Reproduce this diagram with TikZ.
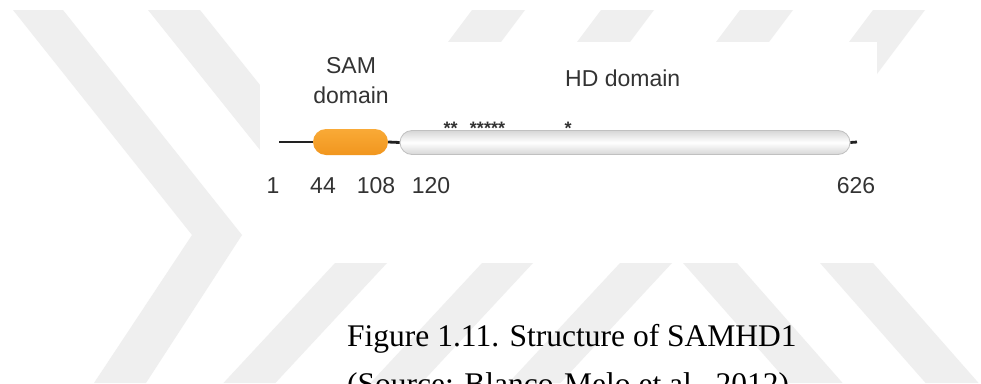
\documentclass[tikz,border=0pt]{standalone}
\usepackage{fontspec}
\setmainfont{Liberation Serif}
\newfontfamily\labelfont{Liberation Sans}
\definecolor{wm}{RGB}{239,239,239}
\definecolor{ink}{RGB}{51,51,51}
\definecolor{bbone}{RGB}{34,34,34}
\definecolor{orlight}{RGB}{249,170,55}
\definecolor{ordark}{RGB}{241,150,30}
\definecolor{cylgray}{RGB}{214,214,214}
\definecolor{cyledge}{RGB}{192,192,192}
\begin{document}
\begin{tikzpicture}[x=1pt,y=-1pt,
  stripe/.style={fill=wm, draw=none},
  lbl/.style={font=\labelfont\fontsize{23}{28}\selectfont, text=ink, inner sep=0pt, anchor=base},
  starlbl/.style={font=\labelfont\bfseries\fontsize{18}{20}\selectfont, text=ink, inner sep=0pt, anchor=base},
  caption/.style={font=\fontsize{31.5}{38}\selectfont, text=black, inner sep=0pt, anchor=base west},
  backbone/.style={draw=bbone, line width=2.8pt},
  samdom/.style={draw=none, rounded corners=13pt, minimum width=75pt, minimum height=26pt,
    inner sep=0pt, top color=orlight, bottom color=ordark},
  hddom/.style={draw=cyledge, line width=0.8pt, rounded corners=12pt, minimum width=450pt,
    minimum height=24pt, inner sep=0pt, top color=cylgray, bottom color=cylgray, middle color=white}
]
\useasboundingbox (0,0) rectangle (981,383);
\fill[white] (0,0) rectangle (981,383);
% watermark
\fill[stripe] (13,10) -- (63,10) -- (242,235) -- (146,383) -- (94,383) -- (192,235) -- cycle;
\fill[stripe] (148,10) -- (200,10) -- (360,210) -- (308,210) -- cycle;
\fill[stripe] (393.6,200) -- (445.6,200) -- (275.4,383) -- (223.4,383) -- cycle;
\fill[stripe] (472,10) -- (525,10) -- (420,150) -- (367,150) -- cycle;
\fill[stripe] (601,10) -- (654,10) -- (549,150) -- (496,150) -- cycle;
\fill[stripe] (740,10) -- (793,10) -- (688,150) -- (635,150) -- cycle;
\fill[stripe] (873,10) -- (925,10) -- (820,150) -- (768,150) -- cycle;
\fill[stripe] (540.6,200) -- (591.6,200) -- (421.4,383) -- (370.4,383) -- cycle;
\fill[stripe] (678.6,200) -- (730.6,200) -- (560.4,383) -- (508.4,383) -- cycle;
\fill[stripe] (627.6,200) -- (681.6,200) -- (842.6,383) -- (788.6,383) -- cycle;
\fill[stripe] (764.6,200) -- (817.6,200) -- (978.6,383) -- (925.6,383) -- cycle;
% figure panel
\fill[white] (260,42) rectangle (877,263);
% protein
\coordinate (n0) at (279,142);
\coordinate (nend) at (857,142);
\node[samdom] (sam) at (350.5,142) {};
\node[hddom] (hd) at (625,142.5) {};
\draw[backbone] (n0) -- (sam.west);
\draw[backbone] (sam.east) -- (hd.west);
\draw[backbone] (hd.east) -- (nend);
% labels
\node[lbl] (samA) at (351,73) {SAM};
\node[lbl] (samB) at (351,103.5) {domain};
\node[lbl, anchor=base west] (hdl) at (565,86.5) {HD domain};
\node[starlbl] (st1) at (450.5,134) {**};
\node[starlbl] (st2) at (487.5,134) {*****};
\node[starlbl] (st3) at (568,134) {*};
\node[lbl] (p1) at (273,193) {1};
\node[lbl] (p44) at (323,193) {44};
\node[lbl] (p108) at (376,193) {108};
\node[lbl] (p120) at (431,193) {120};
\node[lbl] (p626) at (856,193) {626};
% caption
\node[caption] (cap1) at (347,346) {Figure 1.11. Structure of SAMHD1};
\node[caption] (cap2) at (347,394) {(Source: Blanco-Melo et al., 2012)};
\end{tikzpicture}
\end{document}
